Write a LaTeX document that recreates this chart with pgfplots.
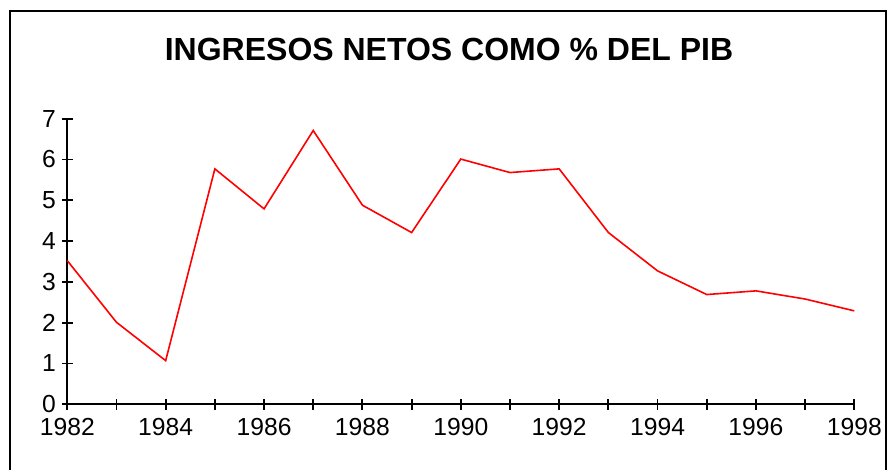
\documentclass[border=0pt]{standalone}
\usepackage{fontspec}
\setmainfont{Liberation Sans}
\usepackage{pgfplots}
\pgfplotsset{compat=1.18}
\pgfplotstableread{
year val
1982 3.52
1983 2.01
1984 1.07
1985 5.77
1986 4.79
1987 6.71
1988 4.88
1989 4.21
1990 6.01
1991 5.68
1992 5.77
1993 4.21
1994 3.27
1995 2.69
1996 2.78
1997 2.58
1998 2.29
}\datatable
\begin{document}
\begin{tikzpicture}
\path[use as bounding box] (0pt,0pt) rectangle (666pt,352.5pt);
\draw[line width=1.4pt] (7.5pt,-5pt) -- (7.5pt,344.25pt) -- (664.5pt,344.25pt) -- (664.5pt,-5pt);
\node[font=\fontsize{24}{28}\selectfont\bfseries, anchor=base, inner sep=0pt] at (336.75pt,306.75pt) {INGRESOS NETOS COMO \% DEL PIB};
\begin{axis}[
  at={(50.475pt,49.275pt)}, anchor=south west,
  scale only axis, width=590.25pt, height=214.2pt,
  xmin=1982, xmax=1998, ymin=0, ymax=7,
  axis x line=bottom, axis y line=left,
  axis line style={-, line width=1.4pt, black},
  xtick={1982,1984,...,1998},
  minor xtick={1983,1985,...,1997},
  ytick={0,1,...,7},
  tick align=center,
  major tick length=8.25pt, minor tick length=8.25pt,
  every tick/.append style={line width=1.4pt, black},
  every major tick/.append style={line width=1.4pt, black},
  every minor tick/.append style={line width=1.4pt, black},
  xtick style={line width=1.4pt, black},
  ytick style={line width=1.4pt, black},
  ticklabel style={font=\fontsize{18.5}{20}\selectfont},
  xticklabel style={yshift=-3pt},
  yticklabel style={xshift=-1pt},
  /pgf/number format/1000 sep={},
  /pgf/number format/assume math mode=true,
  clip=false,
]
\addplot[color=red, line width=1.2pt, mark=none] table[x=year,y=val] {\datatable};
\end{axis}
\end{tikzpicture}
\end{document}
